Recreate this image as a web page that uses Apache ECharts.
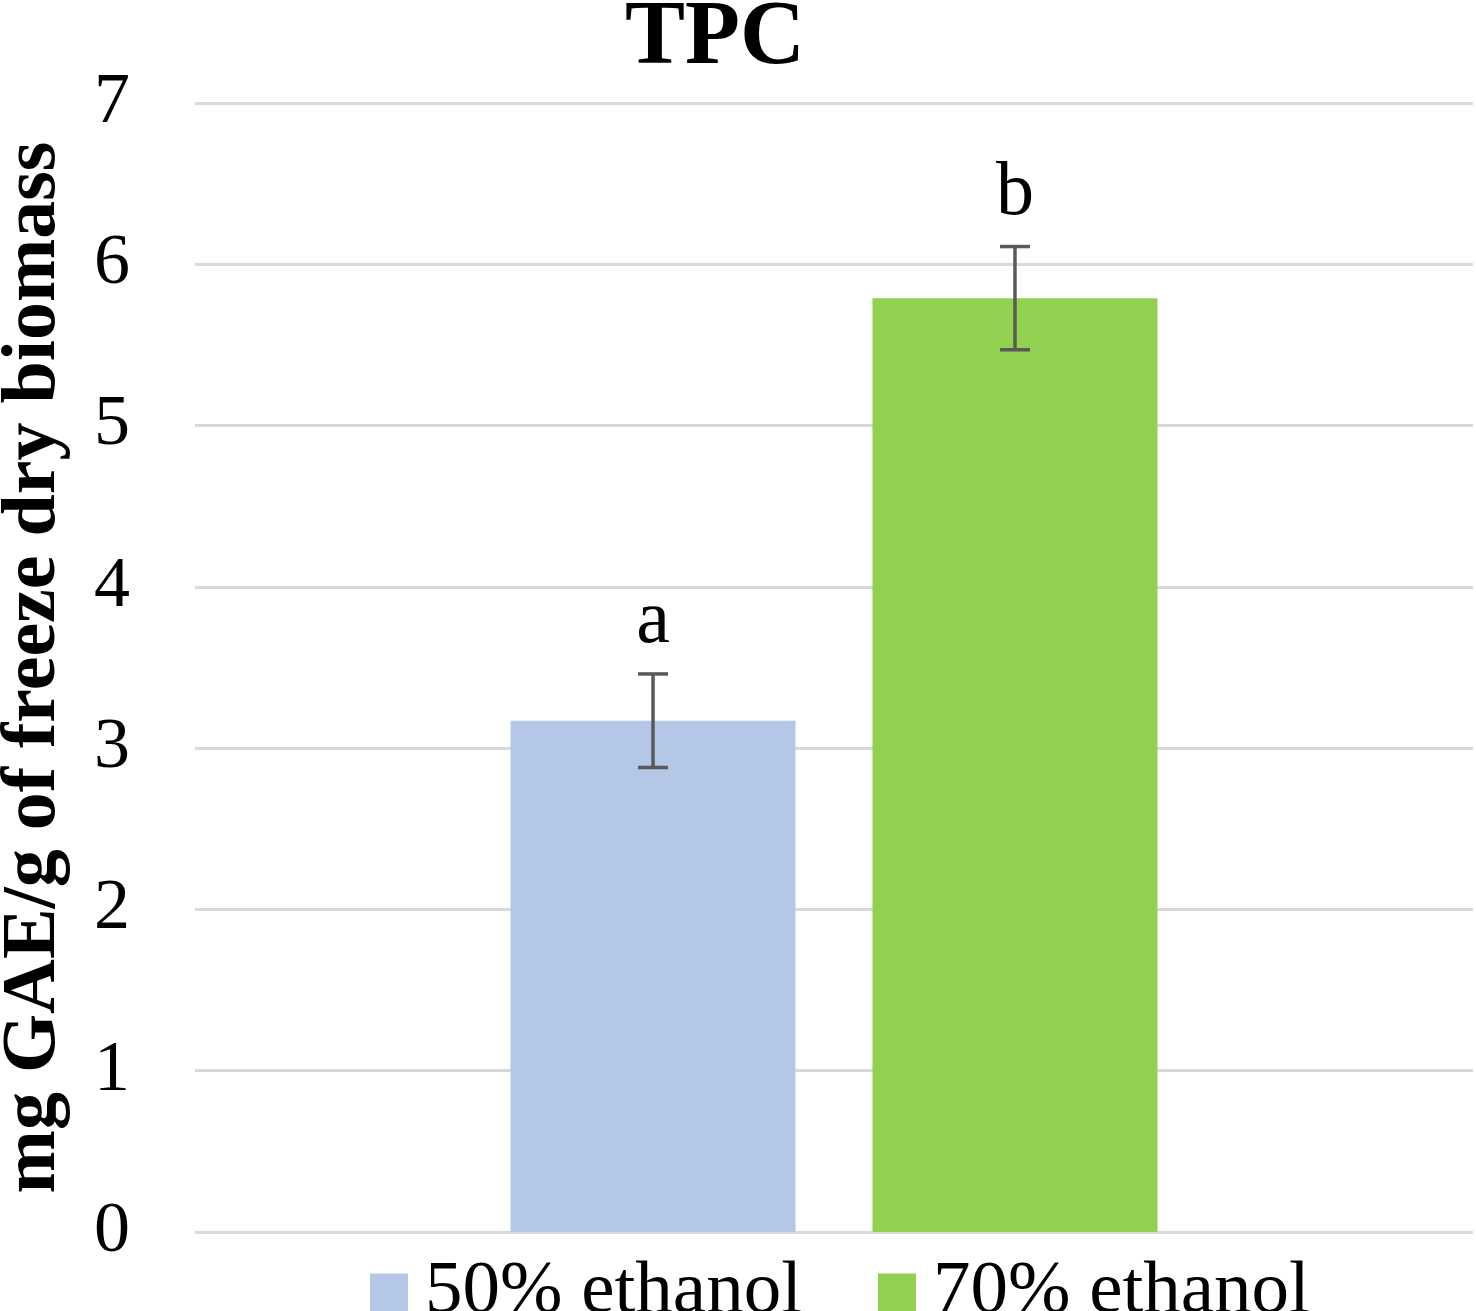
<!DOCTYPE html>
<html>
<head>
<meta charset="utf-8">
<script src="https://cdn.jsdelivr.net/npm/echarts@6/dist/echarts.min.js"></script>
<style>html,body{margin:0;padding:0;background:#fff;}#chart{width:1476px;height:1311px;}</style>
</head>
<body>
<div id="chart"></div>
<script>
const categories = ['TPC'];
const seriesNames = ['50% ethanol', '70% ethanol'];
const means = [3.17, 5.79];
const errors = [0.29, 0.32];
const letters = ['a', 'b'];
const colors = ['#b4c7e7', '#92d050'];
const yMin = 0, yMax = 7, yInterval = 1;

const FONT = '"Liberation Serif", "Times New Roman", serif';
const BAR_W = 285;
const GAP_PCT = 0.27;
const OFFSET = (BAR_W + BAR_W * GAP_PCT) / 2;

const chart = echarts.init(document.getElementById('chart'));

const barSeries = seriesNames.map((name, i) => ({
  name: name,
  type: 'bar',
  barWidth: BAR_W,
  barGap: (GAP_PCT * 100) + '%',
  itemStyle: { color: colors[i] },
  data: [means[i]],
  z: 2
}));

const errData = seriesNames.map((n, i) => [0, means[i], errors[i], i]);

const errSeries = {
  type: 'custom',
  name: 'err',
  z: 5,
  data: errData,
  renderItem: function (params, api) {
    const idx = api.value(3);
    const m = api.value(1), e = api.value(2);
    const c = api.coord([api.value(0), m + e]);
    const d = api.coord([api.value(0), m - e]);
    const x = c[0] + (idx === 0 ? -OFFSET : OFFSET);
    const hw = 15;
    const st = { stroke: '#595959', lineWidth: 3.5 };
    return {
      type: 'group',
      children: [
        { type: 'line', shape: { x1: x, y1: c[1], x2: x, y2: d[1] }, style: st },
        { type: 'line', shape: { x1: x - hw, y1: c[1], x2: x + hw, y2: c[1] }, style: st },
        { type: 'line', shape: { x1: x - hw, y1: d[1], x2: x + hw, y2: d[1] }, style: st },
        { type: 'text', style: { text: letters[idx], x: x, y: c[1] - 14, align: 'center', verticalAlign: 'bottom', font: '76px ' + FONT, fill: '#000' } }
      ]
    };
  }
};

chart.setOption({
  animation: false,
  backgroundColor: '#fff',
  title: {
    text: 'TPC',
    left: 620,
    top: -10,
    textStyle: { fontFamily: FONT, fontWeight: 'bold', fontSize: 90, color: '#000' }
  },
  legend: {
    data: seriesNames,
    left: 365,
    top: 1250,
    itemWidth: 38,
    itemHeight: 38,
    itemGap: 76,
    icon: 'rect',
    textStyle: { fontFamily: FONT, fontSize: 75, color: '#000', padding: [0, 0, 0, 12] }
  },
  grid: { left: 195, right: 3, top: 103, bottom: 79, containLabel: false, outerBoundsMode: 'none' },
  xAxis: {
    type: 'category',
    data: categories,
    axisLine: { show: false },
    axisTick: { show: false },
    axisLabel: { show: false }
  },
  yAxis: {
    type: 'value',
    min: yMin,
    max: yMax,
    interval: yInterval,
    name: 'mg GAE/g of freeze dry biomass',
    nameLocation: 'middle',
    nameRotate: 90,
    nameGap: 123,
    nameTextStyle: { fontFamily: FONT, fontWeight: 'bold', fontSize: 76, color: '#000' },
    axisLine: { show: false },
    axisTick: { show: false },
    axisLabel: { fontFamily: FONT, fontSize: 72, color: '#000', margin: 65 },
    splitLine: { lineStyle: { color: '#d9d9d9', width: 3 } }
  },
  series: barSeries.concat([errSeries])
});
</script>
</body>
</html>
